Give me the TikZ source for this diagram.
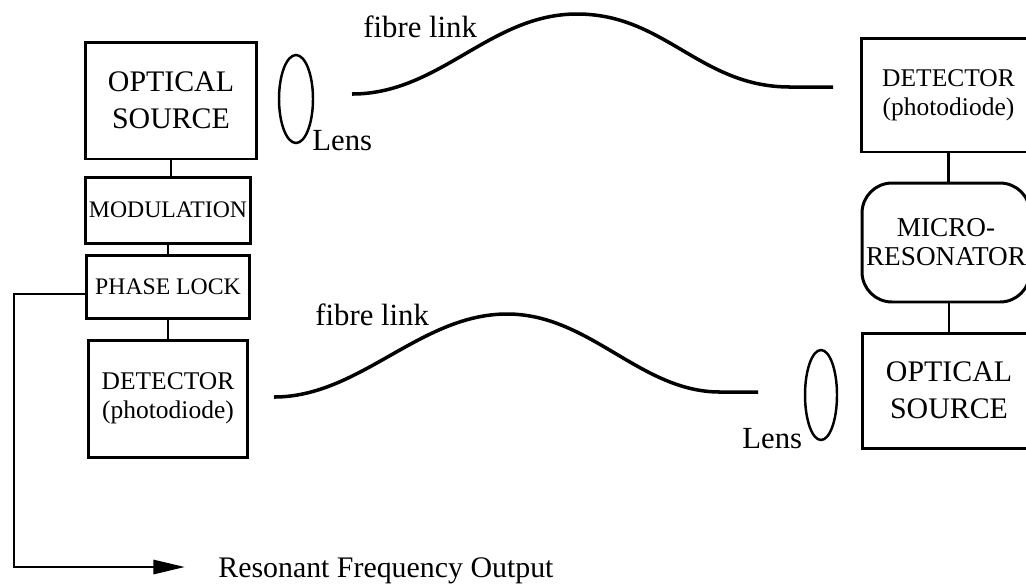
\documentclass[tikz,border=0pt]{standalone}
\usepackage{fontspec}
\setmainfont{Liberation Serif}
\usetikzlibrary{arrows.meta, shapes.geometric}

\newcommand{\bigtxt}{\fontsize{17}{21}\selectfont}
\newcommand{\tighttxt}{\fontsize{15.5}{16.5}\selectfont}
\newcommand{\dettxt}{\fontsize{14.5}{16.5}\selectfont}
\newcommand{\ctltxt}{\fontsize{13.5}{16}\selectfont}
\newcommand{\labtxt}{\fontsize{17.5}{20}\selectfont}

\begin{document}
\begin{tikzpicture}[x=0.02cm, y=-0.02cm,
    box/.style={draw, line width=1.7pt, align=center, inner sep=0pt},
    lens/.style={draw, ellipse, line width=1.4pt, inner sep=0pt},
    lbl/.style={inner sep=0pt, anchor=base west, font=\labtxt},
    wire/.style={line width=1.4pt},
    fibre/.style={line width=2pt},
    feed/.style={line width=1.6pt, -{Triangle[length=18pt,width=8pt]}}]
  \useasboundingbox (0,0) rectangle (1026,583);
  \clip (0,0) rectangle (1026,583);

  % transmitter / receiver column on the left
  \node[box, font=\bigtxt, minimum width=3.44cm, minimum height=2.34cm] (srcL) at (171,100.5) {OPTICAL\\SOURCE};
  \node[box, font=\ctltxt, minimum width=3.3cm, minimum height=1.32cm] (modL) at (168,210) {MODULATION};
  \node[box, font=\ctltxt, minimum width=3.28cm, minimum height=1.26cm] (lockL) at (168,286.5) {PHASE LOCK};
  \node[box, font=\dettxt, minimum width=3.18cm, minimum height=2.34cm] (detL) at (168,398.5) {DETECTOR\\(photodiode)};
  \draw[wire] (srcL.south) -- (srcL.south |- modL.north);
  \draw[wire] (modL.south) -- (modL.south |- lockL.north);
  \draw[wire] (lockL.south) -- (lockL.south |- detL.north);

  % column on the right
  \node[box, font=\dettxt, minimum width=3.5cm, minimum height=2.28cm] (detR) at (948.5,95) {DETECTOR\\(photodiode)};
  \node[box, font=\tighttxt, rounded corners=0.6cm, minimum width=3.36cm, minimum height=2.38cm] (resR) at (946,242.5) {MICRO-\\RESONATOR};
  \node[box, font=\bigtxt, minimum width=3.48cm, minimum height=2.3cm] (srcR) at (949,390.5) {OPTICAL\\SOURCE};
  \draw[wire] (detR.south) -- (detR.south |- resR.north);
  \draw[wire] (srcR.north) -- (srcR.north |- resR.south);

  % lenses
  \node[lens, minimum width=0.68cm, minimum height=1.76cm] (lensL) at (296,99) {};
  \node[lens, minimum width=0.64cm, minimum height=1.8cm] (lensR) at (821,395) {};
  \node[lbl] (lensLtxt) at (312,150) {Lens};
  \node[lbl] (lensRtxt) at (742,448) {Lens};

  % fibre links
  \coordinate (fA0) at (352,94);
  \coordinate (fA1) at (833,87);
  \coordinate (fB0) at (274,397);
  \coordinate (fB1) at (758,392);
  \draw[fibre] (fA0) .. controls (440,94) and (490,14) .. (577,14)
    .. controls (665,14) and (700,87) .. (790,87) -- (fA1);
  \draw[fibre] (fB0) .. controls (360,397) and (420,314) .. (507,314)
    .. controls (590,314) and (640,392) .. (720,392) -- (fB1);
  \node[lbl] (fibA) at (363,37) {fibre link};
  \node[lbl] (fibB) at (315,325) {fibre link};

  % output from the phase lock
  \node[lbl, font=\bigtxt] (out) at (218,577) {Resonant Frequency Output};
  \coordinate (fbTop) at (14,294);
  \coordinate (fbTip) at (185,567);
  \draw[feed] (lockL.west |- fbTop) -- (fbTop) |- (fbTip);
\end{tikzpicture}
\end{document}
